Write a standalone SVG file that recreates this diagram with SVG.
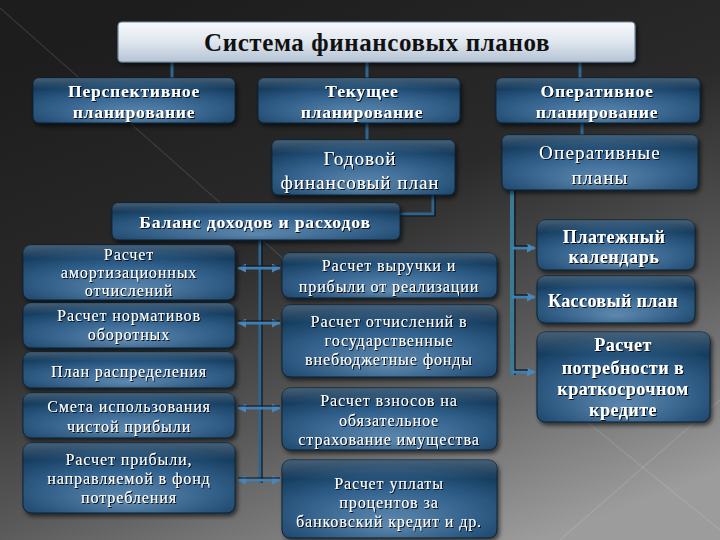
<svg xmlns="http://www.w3.org/2000/svg" width="720" height="540" viewBox="0 0 720 540">
<defs>
<linearGradient id="bg" x1="0.25" y1="0" x2="0.75" y2="1">
<stop offset="0" stop-color="#1d1d1d"/>
<stop offset="0.4" stop-color="#2a2a2a"/>
<stop offset="0.7" stop-color="#5c5c5c"/>
<stop offset="1" stop-color="#9c9c9c"/>
</linearGradient>
<radialGradient id="box" cx="0.5" cy="0.75" r="0.75" fx="0.5" fy="0.85">
<stop offset="0" stop-color="#6190ba"/>
<stop offset="0.55" stop-color="#2e5f8c"/>
<stop offset="1" stop-color="#123757"/>
</radialGradient>
<linearGradient id="shine" x1="0" y1="0" x2="0" y2="1">
<stop offset="0" stop-color="#ffffff" stop-opacity="0.2"/>
<stop offset="0.25" stop-color="#ffffff" stop-opacity="0"/>
<stop offset="1" stop-color="#000000" stop-opacity="0.12"/>
</linearGradient>
<linearGradient id="title" x1="0" y1="0" x2="0" y2="1">
<stop offset="0" stop-color="#f7f9fb"/>
<stop offset="0.5" stop-color="#dfe6ee"/>
<stop offset="1" stop-color="#b4c3d3"/>
</linearGradient>
<filter id="sh" x="-10%" y="-20%" width="125%" height="150%">
<feDropShadow dx="2" dy="3" stdDeviation="2" flood-color="#000" flood-opacity="0.6"/>
</filter>
<filter id="ts" x="-10%" y="-30%" width="120%" height="160%">
<feDropShadow dx="1" dy="1" stdDeviation="0.7" flood-color="#000" flood-opacity="0.9"/>
</filter>
<marker id="ah" viewBox="0 0 10 10" refX="9" refY="5" markerWidth="3" markerHeight="3" orient="auto-start-reverse">
<path d="M0,0 L10,5 L0,10 z" fill="#4a86b8"/>
</marker>
</defs>
<style>
.b{fill:url(#box);stroke:#0c2236;stroke-width:1}
.s{fill:url(#shine);pointer-events:none}
.t{font-family:"Liberation Serif","DejaVu Serif",serif;fill:#ffffff;text-anchor:middle;filter:url(#ts)}
.bold{font-weight:bold}
.m{font-size:16px;letter-spacing:0.9px}
.c{stroke:#2f6690;stroke-width:3;fill:none}
.cd{stroke:#0a1520;stroke-width:1.2;fill:none}
.ar{stroke:#3f7fb2;stroke-width:3;fill:none;marker-start:url(#ah);marker-end:url(#ah)}
.ar1{stroke:#3f7fb2;stroke-width:3;fill:none;marker-end:url(#ah)}
</style>
<rect x="0" y="0" width="720" height="540" fill="url(#bg)"/>
<g stroke="#ffffff" stroke-opacity="0.12" stroke-width="1.2" fill="none">
<line x1="0" y1="8" x2="330" y2="300"/>
<line x1="560" y1="540" x2="720" y2="400"/>
<line x1="560" y1="400" x2="720" y2="530"/>
<line x1="300" y1="460" x2="380" y2="540"/>
</g>

<g id="connectors">
<line class="c" x1="172" y1="62" x2="172" y2="78"/>
<line class="c" x1="367" y1="62" x2="367" y2="78"/>
<line class="c" x1="580" y1="62" x2="580" y2="78"/>
<line class="c" x1="367" y1="123" x2="367" y2="140"/>
<line class="c" x1="582" y1="123" x2="582" y2="135"/>
<path class="c" d="M433,195 V214 H400"/>
<path class="cd" d="M435,195 V216 H400"/>
<line class="c" x1="260" y1="240" x2="260" y2="483"/>
<line class="cd" x1="262" y1="240" x2="262" y2="483"/>
<line class="ar" x1="238" y1="268" x2="280" y2="268"/>
<line class="ar" x1="238" y1="323" x2="280" y2="323"/>
<line class="ar" x1="238" y1="408" x2="280" y2="408"/>
<line class="ar" x1="238" y1="480" x2="280" y2="480"/>
<line class="cd" x1="238" y1="266" x2="280" y2="266"/>
<line class="cd" x1="238" y1="321" x2="280" y2="321"/>
<line class="cd" x1="238" y1="406" x2="280" y2="406"/>
<line class="cd" x1="238" y1="478" x2="280" y2="478"/>
<line x1="512" y1="190" x2="512" y2="375" stroke="#3a7a94" stroke-width="4"/>
<line class="cd" x1="515" y1="190" x2="515" y2="375"/>
<line class="ar1" x1="512" y1="248" x2="535" y2="248"/>
<line class="ar1" x1="512" y1="297" x2="535" y2="297"/>
<line class="ar1" x1="512" y1="372" x2="535" y2="372"/>
<line class="cd" x1="515" y1="246" x2="528" y2="246"/>
<line class="cd" x1="515" y1="295" x2="528" y2="295"/>
<line class="cd" x1="515" y1="370" x2="528" y2="370"/>
</g>

<g id="n_title">
<rect x="118" y="22" width="517" height="40" rx="4" fill="url(#title)" stroke="#6f88a2" stroke-width="1.2" filter="url(#sh)"/>
<text x="377" y="51" font-family="Liberation Serif, DejaVu Serif, serif" font-size="25" font-weight="bold" fill="#111" text-anchor="middle" letter-spacing="0.6">Система финансовых планов</text>
</g>

<g id="n_persp">
<rect class="b" x="33" y="78" width="202" height="45" rx="6" filter="url(#sh)"/>
<rect class="s" x="33" y="78" width="202" height="45" rx="6"/>
<text class="t bold" x="134" y="97" font-size="17.5" letter-spacing="0.8">Перспективное</text>
<text class="t bold" x="134" y="118" font-size="17.5" letter-spacing="0.8">планирование</text>
</g>
<g id="n_tek">
<rect class="b" x="258" y="78" width="202" height="45" rx="6" filter="url(#sh)"/>
<rect class="s" x="258" y="78" width="202" height="45" rx="6"/>
<text class="t bold" x="362" y="97" font-size="17.5" letter-spacing="0.8">Текущее</text>
<text class="t bold" x="362" y="118" font-size="17.5" letter-spacing="0.8">планирование</text>
</g>
<g id="n_oper">
<rect class="b" x="496" y="78" width="204" height="45" rx="6" filter="url(#sh)"/>
<rect class="s" x="496" y="78" width="204" height="45" rx="6"/>
<text class="t bold" x="597" y="97" font-size="17.5" letter-spacing="0.8">Оперативное</text>
<text class="t bold" x="597" y="118" font-size="17.5" letter-spacing="0.8">планирование</text>
</g>

<g id="n_god">
<rect class="b" x="272" y="140" width="183" height="55" rx="6" filter="url(#sh)"/>
<rect class="s" x="272" y="140" width="183" height="55" rx="6"/>
<text class="t" x="360" y="165" font-size="19" letter-spacing="1">Годовой</text>
<text class="t" x="360" y="189" font-size="19" letter-spacing="1">финансовый план</text>
</g>
<g id="n_operplans">
<rect class="b" x="502" y="135" width="196" height="55" rx="6" filter="url(#sh)"/>
<rect class="s" x="502" y="135" width="196" height="55" rx="6"/>
<text class="t" x="600" y="159" font-size="19" letter-spacing="1.2">Оперативные</text>
<text class="t" x="600" y="184" font-size="19" letter-spacing="1.2">планы</text>
</g>
<g id="n_balans">
<rect class="b" x="112" y="203" width="288" height="37" rx="6" filter="url(#sh)"/>
<rect class="s" x="112" y="203" width="288" height="37" rx="6"/>
<text class="t bold" x="255" y="228" font-size="17.5" letter-spacing="0.9">Баланс доходов и расходов</text>
</g>

<g id="n_amort">
<rect class="b" x="23" y="245" width="212" height="55" rx="8" filter="url(#sh)"/>
<rect class="s" x="23" y="245" width="212" height="55" rx="8"/>
<text class="t m" x="129" y="260">Расчет</text>
<text class="t m" x="129" y="278">амортизационных</text>
<text class="t m" x="129" y="296">отчислений</text>
</g>
<g id="n_norm">
<rect class="b" x="23" y="303" width="212" height="45" rx="8" filter="url(#sh)"/>
<rect class="s" x="23" y="303" width="212" height="45" rx="8"/>
<text class="t m" x="129" y="321">Расчет нормативов</text>
<text class="t m" x="129" y="340">оборотных</text>
</g>
<g id="n_plan">
<rect class="b" x="23" y="352" width="212" height="36" rx="8" filter="url(#sh)"/>
<rect class="s" x="23" y="352" width="212" height="36" rx="8"/>
<text class="t m" x="129" y="377">План распределения</text>
</g>
<g id="n_smeta">
<rect class="b" x="23" y="393" width="212" height="45" rx="8" filter="url(#sh)"/>
<rect class="s" x="23" y="393" width="212" height="45" rx="8"/>
<text class="t m" x="129" y="412">Смета использования</text>
<text class="t m" x="129" y="432">чистой прибыли</text>
</g>
<g id="n_pribyl">
<rect class="b" x="23" y="443" width="212" height="70" rx="8" filter="url(#sh)"/>
<rect class="s" x="23" y="443" width="212" height="70" rx="8"/>
<text class="t m" x="129" y="465">Расчет прибыли,</text>
<text class="t m" x="129" y="484">направляемой в фонд</text>
<text class="t m" x="129" y="503">потребления</text>
</g>

<g id="n_vyruchka">
<rect class="b" x="282" y="253" width="215" height="45" rx="8" filter="url(#sh)"/>
<rect class="s" x="282" y="253" width="215" height="45" rx="8"/>
<text class="t m" x="389" y="271">Расчет выручки и</text>
<text class="t m" x="389" y="292">прибыли от реализации</text>
</g>
<g id="n_otchisl">
<rect class="b" x="282" y="305" width="215" height="72" rx="8" filter="url(#sh)"/>
<rect class="s" x="282" y="305" width="215" height="72" rx="8"/>
<text class="t m" x="389" y="327">Расчет отчислений в</text>
<text class="t m" x="389" y="346">государственные</text>
<text class="t m" x="389" y="365">внебюджетные фонды</text>
</g>
<g id="n_vznosy">
<rect class="b" x="282" y="388" width="215" height="62" rx="8" filter="url(#sh)"/>
<rect class="s" x="282" y="388" width="215" height="62" rx="8"/>
<text class="t m" x="389" y="406">Расчет взносов на</text>
<text class="t m" x="389" y="426">обязательное</text>
<text class="t m" x="389" y="445">страхование имущества</text>
</g>
<g id="n_uplata">
<rect class="b" x="282" y="460" width="215" height="78" rx="8" filter="url(#sh)"/>
<rect class="s" x="282" y="460" width="215" height="78" rx="8"/>
<text class="t m" x="389" y="489">Расчет уплаты</text>
<text class="t m" x="389" y="508">процентов за</text>
<text class="t m" x="389" y="527">банковский кредит и др.</text>
</g>

<g id="n_platezh">
<rect class="b" x="537" y="220" width="158" height="50" rx="8" filter="url(#sh)"/>
<rect class="s" x="537" y="220" width="158" height="50" rx="8"/>
<text class="t bold" x="614" y="243" font-size="18" letter-spacing="0.6">Платежный</text>
<text class="t bold" x="614" y="263" font-size="18" letter-spacing="0.6">календарь</text>
</g>
<g id="n_kassa">
<rect class="b" x="537" y="276" width="158" height="47" rx="8" filter="url(#sh)"/>
<rect class="s" x="537" y="276" width="158" height="47" rx="8"/>
<text class="t bold" x="613" y="307" font-size="18" letter-spacing="0.4">Кассовый план</text>
</g>
<g id="n_kredit">
<rect class="b" x="537" y="332" width="173" height="90" rx="8" filter="url(#sh)"/>
<rect class="s" x="537" y="332" width="173" height="90" rx="8"/>
<text class="t bold" x="623" y="351" font-size="18" letter-spacing="0.5">Расчет</text>
<text class="t bold" x="623" y="374" font-size="18" letter-spacing="0.5">потребности в</text>
<text class="t bold" x="623" y="395" font-size="18" letter-spacing="0.5">краткосрочном</text>
<text class="t bold" x="623" y="416" font-size="18" letter-spacing="0.5">кредите</text>
</g>
</svg>
